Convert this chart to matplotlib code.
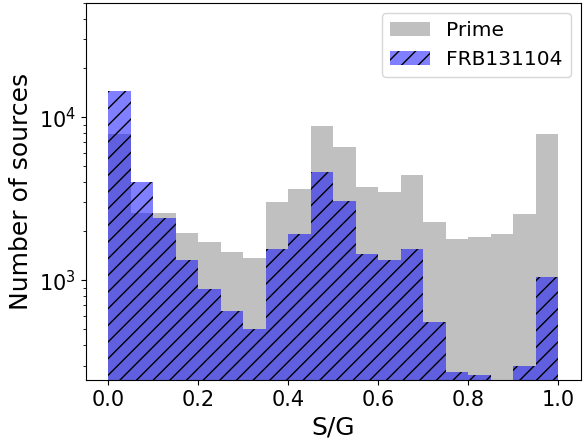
import numpy as np
import matplotlib.pyplot as plt

bin_edges = np.linspace(0.0, 1.0, 21)
prime_counts = [7870, 2580, 2590, 1940, 1720, 1500, 1370, 3000, 3600, 8800,
                6550, 3720, 3480, 4400, 2280, 1780, 1840, 1920, 2540, 7870]
frb_counts = [14500, 4010, 2400, 1330, 885, 652, 503, 1550, 1910, 4620,
              3050, 1440, 1330, 1560, 555, 274, 261, 200, 298, 1050]


def main():
    centers = 0.5 * (bin_edges[:-1] + bin_edges[1:])
    fig = plt.figure(figsize=(5.88, 4.4), dpi=100)
    ax = fig.add_axes([0.146, 0.136, 0.842, 0.857])
    ax.hist(centers, bins=bin_edges, weights=prime_counts, color='silver',
            label='Prime')
    ax.hist(centers, bins=bin_edges, weights=frb_counts, color='blue',
            alpha=0.5, hatch='//', label='FRB131104')
    ax.set_yscale('log')
    ax.set_xlim(-0.05, 1.05)
    ax.set_ylim(244, 50000)
    ax.set_xlabel('S/G', fontsize=18)
    ax.set_ylabel('Number of sources', fontsize=18)
    ax.tick_params(labelsize=15)
    ax.legend(loc='upper right', fontsize=14.5)
    fig.savefig('out.png')


main()
